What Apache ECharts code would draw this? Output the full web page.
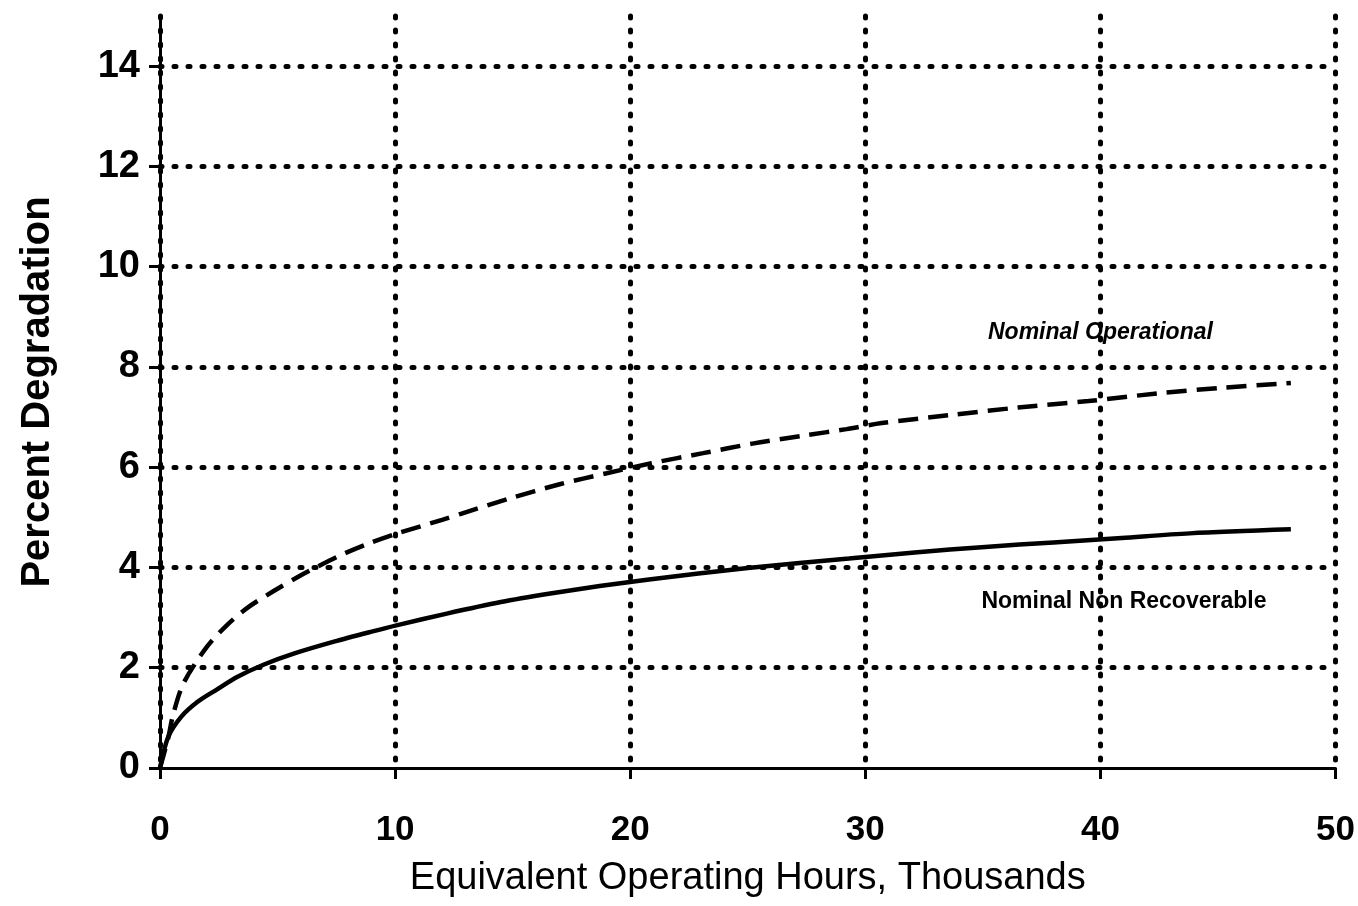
<!DOCTYPE html>
<html>
<head>
<meta charset="utf-8">
<script src="https://cdn.jsdelivr.net/npm/echarts@6/dist/echarts.min.js"></script>
<style>
  html, body { margin: 0; padding: 0; background: #ffffff; }
  #chart { width: 1358px; height: 906px; }
</style>
</head>
<body>
<div id="chart"></div>
<script>
// Hours (thousands) / percent degradation pairs
const operationalX = [0, 0.35, 0.55, 1.0, 2.0, 2.85, 3.7, 4.8, 5.9, 6.8, 7.9, 9.0, 10.1, 12.0, 12.8, 14.9, 17.0, 19.0, 20.9, 23.1, 25.2, 27.4, 29.2, 30.7, 33.6, 36.5, 39.5, 42.4, 45.3, 48.1];
const operationalY = [0, 0.6, 1.05, 1.69, 2.42, 2.85, 3.19, 3.52, 3.82, 4.04, 4.29, 4.50, 4.68, 4.95, 5.07, 5.38, 5.66, 5.88, 6.08, 6.28, 6.47, 6.63, 6.76, 6.88, 7.04, 7.19, 7.32, 7.47, 7.59, 7.68];

const nonRecoverableX = [0, 0.35, 0.9, 1.6, 2.4, 3.3, 4.4, 5.75, 7.4, 9.0, 10.1, 12.2, 14.5, 16.6, 18.7, 20.8, 22.9, 25.0, 27.2, 29.3, 32.1, 35.1, 38.0, 40.9, 43.8, 48.1];
const nonRecoverableY = [0, 0.62, 1.02, 1.32, 1.56, 1.82, 2.06, 2.29, 2.52, 2.72, 2.85, 3.08, 3.31, 3.48, 3.63, 3.76, 3.88, 3.99, 4.09, 4.18, 4.30, 4.41, 4.50, 4.59, 4.68, 4.76];

const xTicks = [0, 10, 20, 30, 40, 50];
const yTicks = [0, 2, 4, 6, 8, 10, 12, 14];
const yGridValues = [2, 4, 6, 8, 10, 12, 14];

const seriesNames = ['Nominal Operational', 'Nominal Non Recoverable'];
const xTitle = 'Equivalent Operating Hours, Thousands';
const yTitle = 'Percent Degradation';

const FONT = '"Liberation Sans", Arial, Helvetica, sans-serif';

function pairs(xs, ys) { return xs.map((x, i) => [x, ys[i]]); }

const dotStyle = { color: '#000', width: 5, type: [2, 12], cap: 'round' };

const chart = echarts.init(document.getElementById('chart'), null, { renderer: 'canvas' });

chart.setOption({
  backgroundColor: '#ffffff',
  animation: false,
  grid: { left: 160, right: 21, top: 16, bottom: 138, containLabel: false },
  xAxis: {
    type: 'value',
    min: xTicks[0],
    max: xTicks[xTicks.length - 1],
    interval: 10,
    name: xTitle,
    nameLocation: 'middle',
    nameGap: 92,
    nameTextStyle: { fontFamily: FONT, fontSize: 38, color: '#000' },
    axisLine: { show: true, onZero: false, lineStyle: { color: '#000', width: 3 } },
    axisTick: { show: true, length: 11, lineStyle: { color: '#000', width: 3 } },
    axisLabel: { fontFamily: FONT, fontSize: 35, fontWeight: 'bold', color: '#000', margin: 45 },
    splitLine: { show: true, lineStyle: dotStyle }
  },
  yAxis: {
    type: 'value',
    min: 0,
    max: 15,
    interval: 2,
    name: yTitle,
    nameLocation: 'middle',
    nameGap: 102,
    nameTextStyle: { fontFamily: FONT, fontSize: 40, fontWeight: 'bold', color: '#000' },
    axisLine: { show: true, onZero: false, lineStyle: { color: '#000', width: 3 } },
    axisTick: { show: true, length: 11, customValues: yTicks, lineStyle: { color: '#000', width: 3 } },
    axisLabel: {
      fontFamily: FONT, fontSize: 38, fontWeight: 'bold', color: '#000', margin: 20,
      customValues: yTicks,
      formatter: v => (yTicks.indexOf(v) >= 0 ? String(v) : '')
    },
    splitLine: { show: false }
  },
  series: [
    {
      name: seriesNames[0],
      type: 'line',
      data: pairs(operationalX, operationalY),
      smooth: 0.3,
      showSymbol: false,
      symbol: 'none',
      lineStyle: { color: '#000', width: 4.5, type: [20, 10] },
      z: 5,
      markLine: {
        silent: true,
        symbol: 'none',
        label: { show: false },
        lineStyle: dotStyle,
        data: yGridValues.map(v => ({ yAxis: v })),
        z: 1
      },
      markPoint: {
        silent: true,
        symbol: 'circle',
        symbolSize: 0,
        data: [{ coord: [40, 8.68], value: seriesNames[0] }],
        label: {
          show: true, position: 'inside', formatter: seriesNames[0],
          fontFamily: FONT, fontSize: 23, fontWeight: 'bold', fontStyle: 'italic', color: '#000'
        }
      }
    },
    {
      name: seriesNames[1],
      type: 'line',
      data: pairs(nonRecoverableX, nonRecoverableY),
      smooth: 0.3,
      showSymbol: false,
      symbol: 'none',
      lineStyle: { color: '#000', width: 4.5, type: 'solid' },
      z: 5,
      markPoint: {
        silent: true,
        symbol: 'circle',
        symbolSize: 0,
        data: [{ coord: [41.0, 3.31], value: seriesNames[1] }],
        label: {
          show: true, position: 'inside', formatter: seriesNames[1],
          fontFamily: FONT, fontSize: 23, fontWeight: 'bold', color: '#000'
        }
      }
    }
  ]
});
</script>
</body>
</html>
